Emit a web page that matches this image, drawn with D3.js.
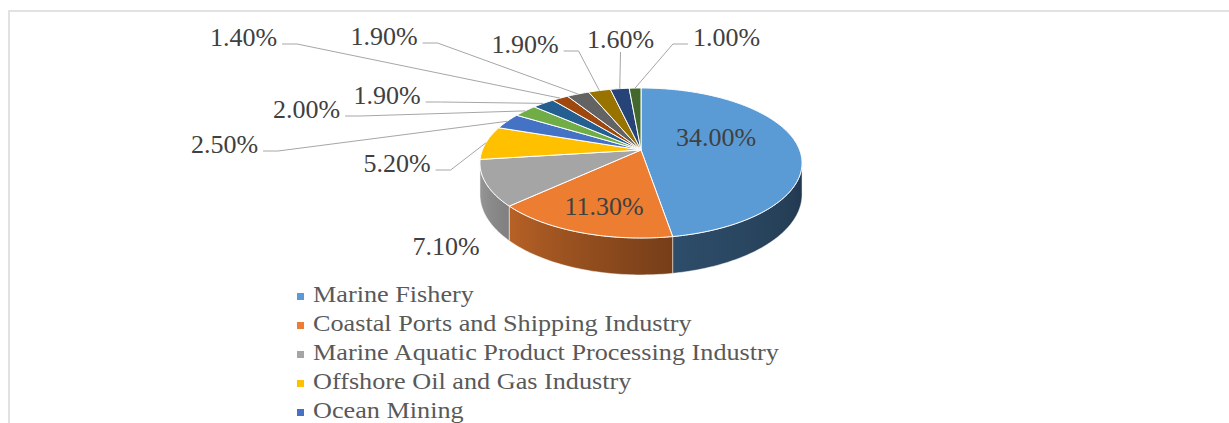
<!doctype html>
<html lang="en">
<head>
<meta charset="UTF-8">
<title>Marine industry shares</title>
<script src="https://cdn.jsdelivr.net/npm/d3@7"></script>
<style>
  body { margin: 0; background: #fff; overflow: hidden; }
  text { font-family: "Liberation Serif", "Times New Roman", serif; }
</style>
</head>
<body>
<div class="canvas"></div>
<script>
  // data (percent shares, clockwise from 12 o'clock)
  const shares = [34.0, 11.3, 7.1, 5.2, 2.5, 2.0, 1.9, 1.4, 1.9, 1.9, 1.6, 1.0];
  const legendNames = ['Marine Fishery', 'Coastal Ports and Shipping Industry',
    'Marine Aquatic Product Processing Industry', 'Offshore Oil and Gas Industry', 'Ocean Mining'];
  const colors = ['#5b9bd5', '#ed7d31', '#a5a5a5', '#ffc000', '#4472c4', '#70ad47',
    '#255e91', '#9e480e', '#636363', '#997300', '#264478', '#43682b'];

  // where each data label sits (text centre x, baseline y) and how its leader runs
  const labelSpots = [
    [716, 146, 'none'], [604, 215, 'none'], [446, 255, 'none'], [397, 172, 'right'],
    [224.5, 153, 'right'], [306.5, 118, 'right'], [387, 104, 'right'], [243.5, 46, 'right'],
    [384, 45, 'right'], [525, 53, 'right'], [620.5, 48, 'down'], [726.5, 46, 'left']
  ];

  const width = 1229, height = 423;
  const svg = d3.select('.canvas').append('svg')
    .attr('width', width)
    .attr('height', height);

  // chart frame (runs off the right and bottom)
  svg.append('rect')
    .attr('x', 9).attr('y', 11)
    .attr('width', 1400).attr('height', 600)
    .attr('fill', 'none')
    .attr('stroke', '#d9d9d9')
    .attr('stroke-width', 1.5);

  // perspective of the pie disc
  const cx = 641, cy = 150, A = 158.6, B = 72.75, K = 0.1734, depth = 30.5;
  const proj = (t, drop) => {
    const u = Math.sin(t), v = -Math.cos(t);
    const s = 1 / (1 - K * v);
    return [cx + A * u * s, cy + B * v * s + (drop ? depth * s : 0)];
  };
  const arcPts = (a, b, drop) => {
    const n = Math.max(2, Math.ceil(Math.abs(b - a) / (Math.PI / 180)));
    return d3.range(n + 1).map(i => proj(a + (b - a) * i / n, drop));
  };

  const pie = d3.pie().sort(null).value(d => d);
  const arcs = pie(shares);
  const line = d3.line();

  // side wall shading by facing angle
  const shade = d3.scaleLinear()
    .domain([100, 172, 262].map(d => d * Math.PI / 180))
    .range([0.36, 0.5, 0.95])
    .clamp(true);
  const sideLo = 100 * Math.PI / 180, sideHi = 260 * Math.PI / 180;

  const defs = svg.append('defs');
  const sides = svg.append('g');
  arcs.forEach((d, i) => {
    const a = Math.max(d.startAngle, sideLo), b = Math.min(d.endAngle, sideHi);
    if (b <= a) return;
    const xa = proj(a)[0], xb = proj(b)[0];
    const grad = defs.append('linearGradient')
      .attr('id', 'side' + i)
      .attr('gradientUnits', 'userSpaceOnUse')
      .attr('x1', xb).attr('x2', xa).attr('y1', 0).attr('y2', 0);
    const base = d3.rgb(colors[i]);
    d3.range(9).forEach(k => {
      const t = b - (b - a) * k / 8;
      const f = shade(t);
      const off = (proj(t)[0] - xb) / (xa - xb);
      grad.append('stop')
        .attr('offset', off)
        .attr('stop-color', d3.rgb(base.r * f, base.g * f, base.b * f));
    });
    const pts = arcPts(a, b, false).concat(arcPts(b, a, true));
    sides.append('path')
      .attr('d', line(pts) + 'Z')
      .attr('fill', `url(#side${i})`)
      .attr('stroke', '#fff')
      .attr('stroke-opacity', 0.6)
      .attr('stroke-width', 0.8);
  });

  // top faces
  svg.append('g').selectAll('path')
    .data(arcs)
    .join('path')
    .attr('d', d => line([[cx, cy]].concat(arcPts(d.startAngle, d.endAngle, false))) + 'Z')
    .attr('fill', (d, i) => colors[i])
    .attr('stroke', '#fff')
    .attr('stroke-width', 1)
    .attr('stroke-linejoin', 'round');

  // data labels + leaders
  const fmt = d3.format('.2f');
  const labels = svg.append('g');
  arcs.forEach((d, i) => {
    const [lx, ly, mode] = labelSpots[i];
    const txt = labels.append('text')
      .attr('x', lx).attr('y', ly)
      .attr('text-anchor', 'middle')
      .attr('fill', '#404040')
      .style('font-size', '26px')
      .text(fmt(d.data) + '%');
    if (mode === 'none') return;
    const w = txt.node().getComputedTextLength();
    const target = proj((d.startAngle + d.endAngle) / 2, false);
    let pts;
    if (mode === 'right') {
      const x0 = lx + w / 2 + 5, y0 = ly - 2;
      pts = [[x0, y0], [x0 + 15, y0], target];
    } else if (mode === 'left') {
      const x0 = lx - w / 2 - 5, y0 = ly - 2;
      pts = [[x0, y0], [x0 - 15, y0], target];
    } else {
      pts = [[lx, ly + 4], target];
    }
    labels.append('path')
      .attr('d', line(pts))
      .attr('fill', 'none')
      .attr('stroke', '#a6a6a6')
      .attr('stroke-width', 1);
  });

  // legend
  const legendY = d3.scaleLinear().domain([0, 1]).range([302, 331]);
  const legend = svg.append('g').selectAll('g')
    .data(legendNames)
    .join('g')
    .attr('transform', (d, i) => `translate(297, ${legendY(i)})`);
  legend.append('rect')
    .attr('x', 0).attr('y', -9)
    .attr('width', 7).attr('height', 7)
    .attr('fill', (d, i) => colors[i]);
  legend.append('text')
    .attr('transform', 'translate(16, 0) scale(1.14, 1)')
    .attr('fill', '#595959')
    .style('font-size', '23px')
    .text(d => d);
</script>
</body>
</html>
